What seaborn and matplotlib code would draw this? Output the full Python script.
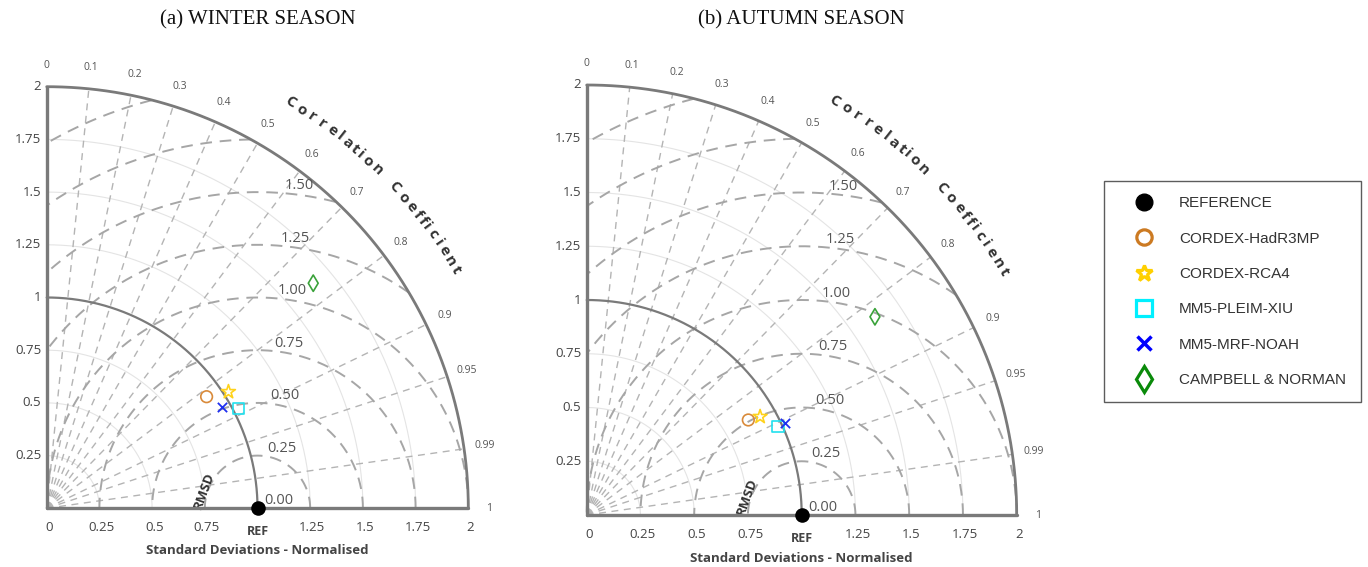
import numpy as np
import matplotlib
matplotlib.use("Agg")
import matplotlib.pyplot as plt
from matplotlib.lines import Line2D
import seaborn as sns

sns.set_theme(style="white")
plt.rcParams['font.family'] = ['Open Sans', 'DejaVu Sans']

# ---- data -------------------------------------------------------------
models = ["CORDEX-HadR3MP", "CORDEX-RCA4", "MM5-PLEIM-XIU", "MM5-MRF-NOAH", "CAMPBELL & NORMAN"]
winter_std = [0.925, 1.024, 1.025, 0.960, 1.655]
winter_corr = [0.820, 0.842, 0.887, 0.865, 0.764]
autumn_std = [0.872, 0.927, 0.981, 1.016, 1.627]
autumn_corr = [0.862, 0.870, 0.908, 0.907, 0.824]
ref_std = 1.0
panel_titles = ["(a) WINTER SEASON", "(b) AUTUMN SEASON"]
corr_ticks = [0, 0.1, 0.2, 0.3, 0.4, 0.5, 0.6, 0.7, 0.8, 0.9, 0.95, 0.99, 1]
std_ticks = [0, 0.25, 0.5, 0.75, 1, 1.25, 1.5, 1.75, 2]
rmsd_levels = [0.25, 0.5, 0.75, 1.0, 1.25, 1.5, 1.75, 2.0]
rmsd_labels = [0.0, 0.25, 0.5, 0.75, 1.0, 1.25, 1.5]

# ---- styling ----------------------------------------------------------
marker_style = {
    "CORDEX-HadR3MP": dict(marker="o", color="#D98A3A"),
    "CORDEX-RCA4": dict(marker="*", color="#FFD21A"),
    "MM5-PLEIM-XIU": dict(marker="s", color="#22E0EE"),
    "MM5-MRF-NOAH": dict(marker="x", color="#2030F0"),
    "CAMPBELL & NORMAN": dict(marker="d", color="#3AA23A"),
}
legend_style = {
    "CORDEX-HadR3MP": dict(marker="o", color="#CC7A22"),
    "CORDEX-RCA4": dict(marker="*", color="#FFD000"),
    "MM5-PLEIM-XIU": dict(marker="s", color="#00F0FF"),
    "MM5-MRF-NOAH": dict(marker="x", color="#0000FF"),
    "CAMPBELL & NORMAN": dict(marker="d", color="#0A8A0A"),
}
RMAX = 2.0
W, H = 1368, 567

fig = plt.figure(figsize=(W / 100, H / 100), dpi=100)


def make_axes(ox, oy, s):
    x0, x1, y0, y1 = -0.25, 2.45, -0.3, 2.35
    left = (ox + x0 * s) / W
    bottom = (H - (oy - y0 * s)) / H
    ax = fig.add_axes([left, bottom, (x1 - x0) * s / W, (y1 - y0) * s / H])
    ax.set_xlim(x0, x1)
    ax.set_ylim(y0, y1)
    ax.axis("off")
    return ax


def char_width(ch):
    if ch == " ":
        return 0.9
    if ch in "iltf":
        return 0.6
    if ch in "C":
        return 1.25
    return 1.0


def draw_taylor(ax, stds, corrs):
    t = np.linspace(0, np.pi / 2, 300)
    # faint standard deviation arcs
    for r in [0.25, 0.5, 0.75, 1.25, 1.5, 1.75]:
        ax.plot(r * np.cos(t), r * np.sin(t), color="#e4e4e4", lw=0.8, zorder=1)
    # correlation rays
    for c in corr_ticks[1:-1]:
        a = np.arccos(c)
        ax.plot([0, RMAX * np.cos(a)], [0, RMAX * np.sin(a)], color="#b4b4b4",
                lw=1.0, dashes=(5, 4), zorder=2)
    # centred RMS difference circles
    phi = np.linspace(0, np.pi, 600)
    for r in rmsd_levels:
        x = ref_std + r * np.cos(phi)
        y = r * np.sin(phi)
        m = (x >= 0) & (x ** 2 + y ** 2 <= RMAX ** 2)
        x = np.where(m, x, np.nan)
        y = np.where(m, y, np.nan)
        ax.plot(x, y, color="#a6a6a6", lw=1.4, dashes=(6, 4), zorder=2)
    for r in rmsd_labels:
        ax.text(1.03 + r * 0.065, r * 0.996, f"{r:.2f}", ha="left", va="bottom",
                fontsize=10.5, color="#555555", zorder=4)
    ax.text(0.745, 0.085, "RMSD", rotation=70, ha="center", va="center",
            fontsize=9.5, fontweight="bold", color="#333333")
    # frame: outer arc, reference arc, axes
    ax.plot(RMAX * np.cos(t), RMAX * np.sin(t), color="#7a7a7a", lw=2.0, zorder=3)
    ax.plot(ref_std * np.cos(t), ref_std * np.sin(t), color="#7a7a7a", lw=1.6, zorder=3)
    ax.plot([0, 0], [0, RMAX], color="#7a7a7a", lw=2.4, zorder=3)
    ax.plot([0, RMAX], [0, 0], color="#7a7a7a", lw=2.4, zorder=3)
    # standard deviation tick labels
    for v in std_ticks:
        if v > 0:
            ax.text(-0.025, v, f"{v:g}", ha="right", va="center", fontsize=9.5, color="#444444")
        if v != 1:
            ax.text(v + 0.01, -0.09, f"{v:g}", ha="center", va="center", fontsize=9.5, color="#444444")
    ax.text(1.0, -0.11, "REF", ha="center", va="center", fontsize=9, fontweight="bold", color="#444444")
    ax.text(1.0, -0.2, "Standard Deviations - Normalised", ha="center", va="center",
            fontsize=9.5, fontweight="bold", color="#444444")
    # correlation tick labels
    for c in corr_ticks:
        a = np.arccos(c)
        ax.text(2.1 * np.cos(a), 2.1 * np.sin(a), f"{c:g}", ha="center", va="center",
                fontsize=7.5, color="#555555")
    # curved axis title
    label = "Correlation Coefficient"
    widths = np.array([char_width(ch) for ch in label])
    centers = np.cumsum(widths) - widths / 2
    centers = centers / centers[-1]
    a_start, a_end = 60.0, 30.3
    for ch, f in zip(label, centers):
        ang = a_start + (a_end - a_start) * f
        ar = np.deg2rad(ang)
        ax.text(2.245 * np.cos(ar), 2.245 * np.sin(ar), ch, rotation=ang - 90,
                rotation_mode="anchor", ha="center", va="center",
                fontsize=11, fontweight="bold", color="#333333")
    # reference point
    sns.scatterplot(x=[ref_std], y=[0.0], ax=ax, color="black", s=110, marker="o",
                    edgecolor="black", linewidth=0, zorder=6, legend=False, clip_on=False)
    # model points
    for name, sd, cr in zip(models, stds, corrs):
        st = marker_style[name]
        a = np.arccos(cr)
        xs, ys = [sd * np.cos(a)], [sd * np.sin(a)]
        if st["marker"] == "x":
            sns.scatterplot(x=xs, y=ys, ax=ax, marker="x", color=st["color"], s=45,
                            linewidth=1.3, zorder=5, legend=False)
        else:
            size = 110 if st["marker"] == "*" else 70
            sns.scatterplot(x=xs, y=ys, ax=ax, marker=st["marker"], color=st["color"],
                            facecolor="none", edgecolor=st["color"], s=size,
                            linewidth=1.2, zorder=5, legend=False)


ax1 = make_axes(46.7, 508.3, 210.8)
draw_taylor(ax1, winter_std, winter_corr)
ax2 = make_axes(586.7, 515.0, 215.0)
draw_taylor(ax2, autumn_std, autumn_corr)

fig.text(258 / W, 1 - 20 / H, panel_titles[0], ha="center", va="center",
         fontsize=15, family="Liberation Serif", color="#111111")
fig.text(801 / W, 1 - 20 / H, panel_titles[1], ha="center", va="center",
         fontsize=15, family="Liberation Serif", color="#111111")

# legend
handles = [Line2D([], [], ls="none", marker="o", color="black", markersize=12)]
labels = ["REFERENCE"]
for name in models:
    st = legend_style[name]
    if st["marker"] == "x":
        h = Line2D([], [], ls="none", marker="x", color=st["color"], markersize=10, mew=2.5)
    else:
        ms = 12 if st["marker"] == "*" else (13 if st["marker"] == "d" else 11)
        h = Line2D([], [], ls="none", marker=st["marker"], markerfacecolor="none",
                   markeredgecolor=st["color"], markersize=ms, mew=2.3)
    handles.append(h)
    labels.append(name)
leg = fig.legend(handles, labels, loc="upper left", bbox_to_anchor=(1104 / W, 1 - 181 / H),
                 frameon=True, fancybox=False, labelspacing=1.4,
                 handlelength=3.3, handletextpad=0.6, borderpad=1.0, borderaxespad=0,
                 prop={"family": ["Liberation Sans"], "size": 11})
leg.get_frame().set_edgecolor("#333333")
leg.get_frame().set_linewidth(1.0)
for txt in leg.get_texts():
    txt.set_color("#333333")

fig.savefig("out.png", dpi=100, facecolor="white")
